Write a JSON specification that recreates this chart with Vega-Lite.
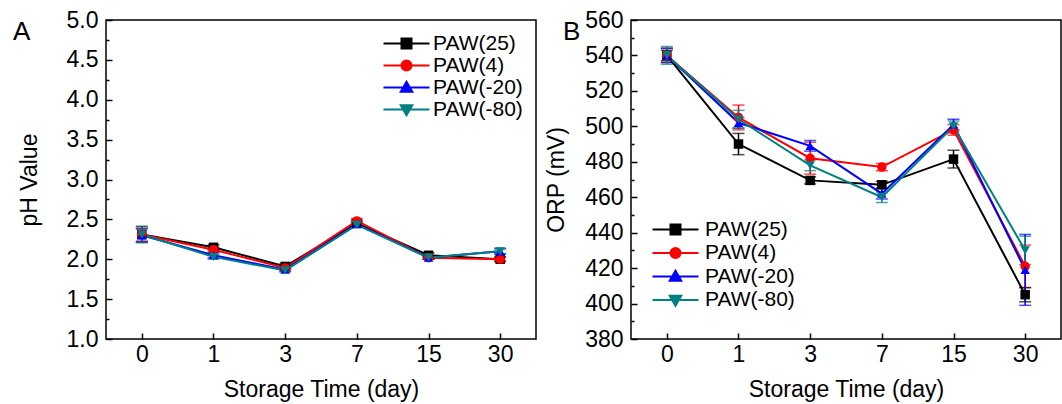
{
  "$schema": "https://vega.github.io/schema/vega-lite/v6.json",
  "padding": {"left": 12, "top": 8, "right": 2, "bottom": 2},
  "spacing": 95,
  "bounds": "flush",
  "config": {
    "font": "Liberation Sans",
    "view": {"stroke": "#000", "strokeWidth": 1.5},
    "axis": {"labelFont": "Liberation Sans", "labelFontSize": 23, "labelColor": "#000", "titleFont": "Liberation Sans", "titleFontSize": 23, "titleFontWeight": "normal", "titleColor": "#000", "tickColor": "#000", "tickWidth": 1.5, "domain": false, "grid": false},
    "legend": {"labelFont": "Liberation Sans", "labelFontSize": 21, "labelColor": "#000", "padding": 0, "rowPadding": 0, "labelOffset": 16, "symbolSize": 100, "symbolStrokeWidth": 2, "symbolOpacity": 1, "orient": "none"},
    "title": {"font": "Liberation Sans", "fontSize": 26, "fontWeight": "normal", "color": "#000", "anchor": "start", "frame": "group"}
  },
  "datasets": {
    "ph": [
      {"day": 0, "series": "PAW(25)", "v": 2.31, "e": 0.1},
      {"day": 1, "series": "PAW(25)", "v": 2.15, "e": 0.03},
      {"day": 3, "series": "PAW(25)", "v": 1.91, "e": 0.03},
      {"day": 7, "series": "PAW(25)", "v": 2.45, "e": 0.04},
      {"day": 15, "series": "PAW(25)", "v": 2.05, "e": 0.03},
      {"day": 30, "series": "PAW(25)", "v": 2.0, "e": 0.03},
      {"day": 0, "series": "PAW(4)", "v": 2.31, "e": 0.08},
      {"day": 1, "series": "PAW(4)", "v": 2.12, "e": 0.03},
      {"day": 3, "series": "PAW(4)", "v": 1.89, "e": 0.02},
      {"day": 7, "series": "PAW(4)", "v": 2.48, "e": 0.03},
      {"day": 15, "series": "PAW(4)", "v": 2.02, "e": 0.02},
      {"day": 30, "series": "PAW(4)", "v": 2.0, "e": 0.02},
      {"day": 0, "series": "PAW(-20)", "v": 2.3, "e": 0.08},
      {"day": 1, "series": "PAW(-20)", "v": 2.05, "e": 0.03},
      {"day": 3, "series": "PAW(-20)", "v": 1.87, "e": 0.02},
      {"day": 7, "series": "PAW(-20)", "v": 2.44, "e": 0.03},
      {"day": 15, "series": "PAW(-20)", "v": 2.02, "e": 0.02},
      {"day": 30, "series": "PAW(-20)", "v": 2.1, "e": 0.03},
      {"day": 0, "series": "PAW(-80)", "v": 2.31, "e": 0.1},
      {"day": 1, "series": "PAW(-80)", "v": 2.03, "e": 0.03},
      {"day": 3, "series": "PAW(-80)", "v": 1.86, "e": 0.02},
      {"day": 7, "series": "PAW(-80)", "v": 2.43, "e": 0.03},
      {"day": 15, "series": "PAW(-80)", "v": 2.02, "e": 0.02},
      {"day": 30, "series": "PAW(-80)", "v": 2.1, "e": 0.04}
    ],
    "orp": [
      {"day": 0, "series": "PAW(25)", "v": 540, "e": 3},
      {"day": 1, "series": "PAW(25)", "v": 490, "e": 6},
      {"day": 3, "series": "PAW(25)", "v": 469.5, "e": 2},
      {"day": 7, "series": "PAW(25)", "v": 467, "e": 2},
      {"day": 15, "series": "PAW(25)", "v": 481.5, "e": 5},
      {"day": 30, "series": "PAW(25)", "v": 405, "e": 4},
      {"day": 0, "series": "PAW(4)", "v": 540, "e": 4},
      {"day": 1, "series": "PAW(4)", "v": 505, "e": 7},
      {"day": 3, "series": "PAW(4)", "v": 482, "e": 9},
      {"day": 7, "series": "PAW(4)", "v": 477, "e": 2},
      {"day": 15, "series": "PAW(4)", "v": 498, "e": 3},
      {"day": 30, "series": "PAW(4)", "v": 421, "e": 12},
      {"day": 0, "series": "PAW(-20)", "v": 540, "e": 4},
      {"day": 1, "series": "PAW(-20)", "v": 502, "e": 3},
      {"day": 3, "series": "PAW(-20)", "v": 489, "e": 3},
      {"day": 7, "series": "PAW(-20)", "v": 462, "e": 3},
      {"day": 15, "series": "PAW(-20)", "v": 501, "e": 3},
      {"day": 30, "series": "PAW(-20)", "v": 419, "e": 20},
      {"day": 0, "series": "PAW(-80)", "v": 540, "e": 5},
      {"day": 1, "series": "PAW(-80)", "v": 504, "e": 5},
      {"day": 3, "series": "PAW(-80)", "v": 478, "e": 3},
      {"day": 7, "series": "PAW(-80)", "v": 460, "e": 3},
      {"day": 15, "series": "PAW(-80)", "v": 500, "e": 3},
      {"day": 30, "series": "PAW(-80)", "v": 430, "e": 8}
    ]
  },
  "resolve": {"scale": {"x": "independent", "y": "independent", "color": "independent", "shape": "independent", "fill": "independent", "stroke": "independent"}, "legend": {"color": "independent", "shape": "independent", "fill": "independent", "stroke": "independent"}},
  "hconcat": [
    {
      "width": 430, "height": 319,
      "data": {"name": "ph"},
      "title": {"text": "A", "dx": -93, "dy": 36, "offset": 0},
      "encoding": {
        "x": {"field": "day", "type": "ordinal", "scale": {"type": "point", "padding": 0.5}, "axis": {"title": "Storage Time (day)", "labelAngle": 0, "tickSize": -6, "labelPadding": 10, "titlePadding": 12}},
        "y": {"field": "v", "type": "quantitative", "scale": {"domain": [1, 5], "nice": false, "zero": false}, "axis": {"title": "pH Value", "values": [1, 1.25, 1.5, 1.75, 2, 2.25, 2.5, 2.75, 3, 3.25, 3.5, 3.75, 4, 4.25, 4.5, 4.75, 5], "labelExpr": "round(datum.value*4) % 2 == 0 ? format(datum.value, '.1f') : ''", "tickSize": {"condition": {"test": "round(datum.value*4) % 2 == 0", "value": -6}, "value": -3}, "labelPadding": 14, "titlePadding": 25}},
        "color": {"field": "series", "type": "nominal", "scale": {"domain": ["PAW(25)", "PAW(4)", "PAW(-20)", "PAW(-80)"], "range": ["#000000", "#ff0000", "#0000ff", "#008080"]}, "legend": {"title": null, "orient": "none", "legendX": 290, "legendY": 13}}
      },
      "layer": [
        {"mark": {"type": "errorbar", "ticks": {"size": 12, "thickness": 1.5}, "rule": {"strokeWidth": 1.5}},
         "encoding": {"yError": {"field": "e"}}},
        {"mark": {"type": "line", "strokeWidth": 2}, "encoding": {}},
        {"transform": [{"filter": "datum.series == 'PAW(25)'"}], "mark": {"type": "point", "filled": true, "opacity": 1, "size": 90, "shape": "square"}, "encoding": {}},
        {"transform": [{"filter": "datum.series == 'PAW(4)'"}], "mark": {"type": "point", "filled": true, "opacity": 1, "size": 90, "shape": "circle"}, "encoding": {}},
        {"transform": [{"filter": "datum.series == 'PAW(-20)'"}], "mark": {"type": "point", "filled": true, "opacity": 1, "size": 90, "shape": "triangle-up"}, "encoding": {}},
        {"transform": [{"filter": "datum.series == 'PAW(-80)'"}], "mark": {"type": "point", "filled": true, "opacity": 1, "size": 90, "shape": "triangle-down"}, "encoding": {}},
        {"transform": [{"filter": "datum.v < -1000"}],
         "mark": {"type": "point", "opacity": 1, "strokeWidth": 2, "size": 100},
         "encoding": {
           "fill": {"field": "series", "type": "nominal", "scale": {"domain": ["PAW(25)", "PAW(4)", "PAW(-20)", "PAW(-80)"], "range": ["#000000", "#ff0000", "#0000ff", "#008080"]}, "legend": {"title": null, "orient": "none", "legendX": 290, "legendY": 13}},
           "stroke": {"field": "series", "type": "nominal", "scale": {"domain": ["PAW(25)", "PAW(4)", "PAW(-20)", "PAW(-80)"], "range": ["#000000", "#ff0000", "#0000ff", "#008080"]}, "legend": {"title": null, "orient": "none", "legendX": 290, "legendY": 13}},
           "shape": {"field": "series", "type": "nominal", "scale": {"domain": ["PAW(25)", "PAW(4)", "PAW(-20)", "PAW(-80)"], "range": ["M-4.6,0H4.6M-1,-1H1V1H-1Z", "M-4.6,0H4.6M1,0A1,1,0,1,1,-1,0A1,1,0,1,1,1,0Z", "M-4.6,0H4.6M0,-1.15L1.15,0.85L-1.15,0.85Z", "M-4.6,0H4.6M0,1.15L1.15,-0.85L-1.15,-0.85Z"]}, "legend": {"title": null, "orient": "none", "legendX": 290, "legendY": 13}}
         }}
      ]
    },
    {
      "width": 430, "height": 319,
      "data": {"name": "orp"},
      "title": {"text": "B", "dx": -68, "dy": 36, "offset": 0},
      "encoding": {
        "x": {"field": "day", "type": "ordinal", "scale": {"type": "point", "padding": 0.5}, "axis": {"title": "Storage Time (day)", "labelAngle": 0, "tickSize": -6, "labelPadding": 10, "titlePadding": 12}},
        "y": {"field": "v", "type": "quantitative", "scale": {"domain": [380, 560], "nice": false, "zero": false}, "axis": {"title": "ORP (mV)", "values": [380, 390, 400, 410, 420, 430, 440, 450, 460, 470, 480, 490, 500, 510, 520, 530, 540, 550, 560], "labelExpr": "datum.value % 20 == 0 ? datum.label : ''", "tickSize": {"condition": {"test": "datum.value % 20 == 0", "value": -6}, "value": -3}, "labelPadding": 14, "titlePadding": 16}},
        "color": {"field": "series", "type": "nominal", "scale": {"domain": ["PAW(25)", "PAW(4)", "PAW(-20)", "PAW(-80)"], "range": ["#000000", "#ff0000", "#0000ff", "#008080"]}, "legend": {"title": null, "orient": "none", "legendX": 34, "legendY": 199, "rowPadding": 1.5, "labelOffset": 19}}
      },
      "layer": [
        {"mark": {"type": "errorbar", "ticks": {"size": 12, "thickness": 1.5}, "rule": {"strokeWidth": 1.5}},
         "encoding": {"yError": {"field": "e"}}},
        {"mark": {"type": "line", "strokeWidth": 2}, "encoding": {}},
        {"transform": [{"filter": "datum.series == 'PAW(25)'"}], "mark": {"type": "point", "filled": true, "opacity": 1, "size": 90, "shape": "square"}, "encoding": {}},
        {"transform": [{"filter": "datum.series == 'PAW(4)'"}], "mark": {"type": "point", "filled": true, "opacity": 1, "size": 90, "shape": "circle"}, "encoding": {}},
        {"transform": [{"filter": "datum.series == 'PAW(-20)'"}], "mark": {"type": "point", "filled": true, "opacity": 1, "size": 90, "shape": "triangle-up"}, "encoding": {}},
        {"transform": [{"filter": "datum.series == 'PAW(-80)'"}], "mark": {"type": "point", "filled": true, "opacity": 1, "size": 90, "shape": "triangle-down"}, "encoding": {}},
        {"transform": [{"filter": "datum.v < -1000"}],
         "mark": {"type": "point", "opacity": 1, "strokeWidth": 2, "size": 100},
         "encoding": {
           "fill": {"field": "series", "type": "nominal", "scale": {"domain": ["PAW(25)", "PAW(4)", "PAW(-20)", "PAW(-80)"], "range": ["#000000", "#ff0000", "#0000ff", "#008080"]}, "legend": {"title": null, "orient": "none", "legendX": 34, "legendY": 199, "rowPadding": 1.5, "labelOffset": 19}},
           "stroke": {"field": "series", "type": "nominal", "scale": {"domain": ["PAW(25)", "PAW(4)", "PAW(-20)", "PAW(-80)"], "range": ["#000000", "#ff0000", "#0000ff", "#008080"]}, "legend": {"title": null, "orient": "none", "legendX": 34, "legendY": 199, "rowPadding": 1.5, "labelOffset": 19}},
           "shape": {"field": "series", "type": "nominal", "scale": {"domain": ["PAW(25)", "PAW(4)", "PAW(-20)", "PAW(-80)"], "range": ["M-4.6,0H4.6M-1,-1H1V1H-1Z", "M-4.6,0H4.6M1,0A1,1,0,1,1,-1,0A1,1,0,1,1,1,0Z", "M-4.6,0H4.6M0,-1.15L1.15,0.85L-1.15,0.85Z", "M-4.6,0H4.6M0,1.15L1.15,-0.85L-1.15,-0.85Z"]}, "legend": {"title": null, "orient": "none", "legendX": 34, "legendY": 199, "rowPadding": 1.5, "labelOffset": 19}}
         }}
      ]
    }
  ]
}
